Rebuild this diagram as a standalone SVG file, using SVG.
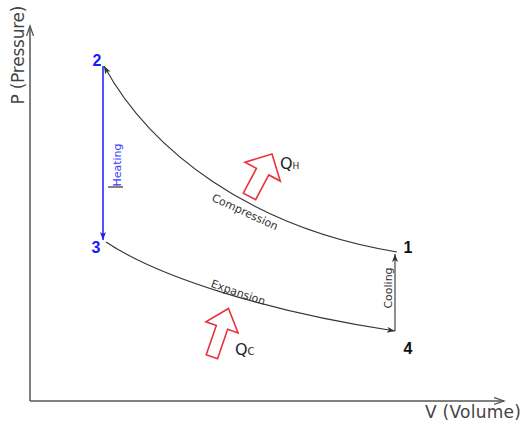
<svg xmlns="http://www.w3.org/2000/svg" width="523" height="427" viewBox="0 0 523 427">
<style>
.axis{stroke:#555;stroke-width:1.5;fill:none}
.curve{stroke:#333;stroke-width:1.1;fill:none}
.lbl{font-family:"DejaVu Sans",sans-serif;font-size:11px;fill:#333}
.ax{font-family:"DejaVu Sans",sans-serif;font-size:17px;fill:#444}
.num{font-family:"Liberation Sans",Arial,sans-serif;font-size:16px;font-weight:bold}
.q{font-family:"DejaVu Sans",sans-serif;font-size:16px;fill:#222}
.heat{stroke:#e8323c;stroke-width:1.6;fill:#fff;stroke-linejoin:miter}
</style>
<defs>
<marker id="chev" markerUnits="userSpaceOnUse" markerWidth="12" markerHeight="10" refX="10" refY="4" orient="auto">
<path d="M0,0.5 L10,4 L0,7.5" fill="none" stroke="#555" stroke-width="1.3"/>
</marker>
<marker id="ah" markerUnits="userSpaceOnUse" markerWidth="10" markerHeight="8" refX="8" refY="3" orient="auto">
<path d="M0,0 L8,3 L0,6 L2,3 z" fill="#333"/>
</marker>
<marker id="ahb" markerUnits="userSpaceOnUse" markerWidth="10" markerHeight="8" refX="8" refY="3" orient="auto">
<path d="M0,0 L8,3 L0,6 L2,3 z" fill="#1a1aff"/>
</marker>
</defs>
<rect width="523" height="427" fill="#fff"/>
<g id="axes">
<path class="axis" d="M30,401 L30,26" marker-end="url(#chev)"/>
<path class="axis" d="M30,401 L504,401" marker-end="url(#chev)"/>
<text class="ax" transform="translate(24,55) rotate(-90)" text-anchor="middle" textLength="99">P (Pressure)</text>
<text class="ax" x="473" y="418" text-anchor="middle" textLength="96">V (Volume)</text>
</g>
<g id="connectors">
<path id="compression" class="curve" d="M397,252 C250,228 150,150 104,66" marker-end="url(#ah)"/>
<path id="heating" d="M103,66 L103,240" stroke="#1a1aff" stroke-width="1.5" fill="none" marker-end="url(#ahb)"/>
<path id="expansion" class="curve" d="M106,242 C160,278 270,312 395,331" marker-end="url(#ah)"/>
<path id="cooling" class="curve" d="M395,331 L395,254" marker-end="url(#ah)"/>
<text class="lbl" transform="translate(243.5,215.5) rotate(24.8)" text-anchor="middle">Compression</text>
<text class="lbl" transform="translate(237,296) rotate(19)" text-anchor="middle">Expansion</text>
<text class="lbl" transform="translate(121,165) rotate(-90)" text-anchor="middle" fill="#3a3aff" style="fill:#3a3aff">Heating</text>
<line x1="108" y1="187" x2="123" y2="187" stroke="#333" stroke-width="1.2"/>
<text class="lbl" transform="translate(392,288) rotate(-90)" text-anchor="middle">Cooling</text>
</g>
<g id="node-2"><text class="num" x="97" y="66" text-anchor="middle" fill="#1a1aff">2</text></g>
<g id="node-3"><text class="num" x="96" y="253" text-anchor="middle" fill="#1a1aff">3</text></g>
<g id="node-1"><text class="num" x="408" y="253" text-anchor="middle" fill="#111">1</text></g>
<g id="node-4"><text class="num" x="408" y="354" text-anchor="middle" fill="#111">4</text></g>
<g id="qh">
<polygon class="heat" transform="translate(272,154) rotate(28)" points="0,0 20,20 7,20 7,48 -7,48 -7,20 -20,20"/>
<text class="q" x="280" y="168.5">Q<tspan font-size="9">H</tspan></text>
</g>
<g id="qc">
<polygon class="heat" transform="translate(228.5,308.5) rotate(19)" points="0,0 17,20 6,20 6,51 -6,51 -6,20 -17,20"/>
<text class="q" x="235" y="355">Q<tspan font-size="10">C</tspan></text>
</g>
</svg>
